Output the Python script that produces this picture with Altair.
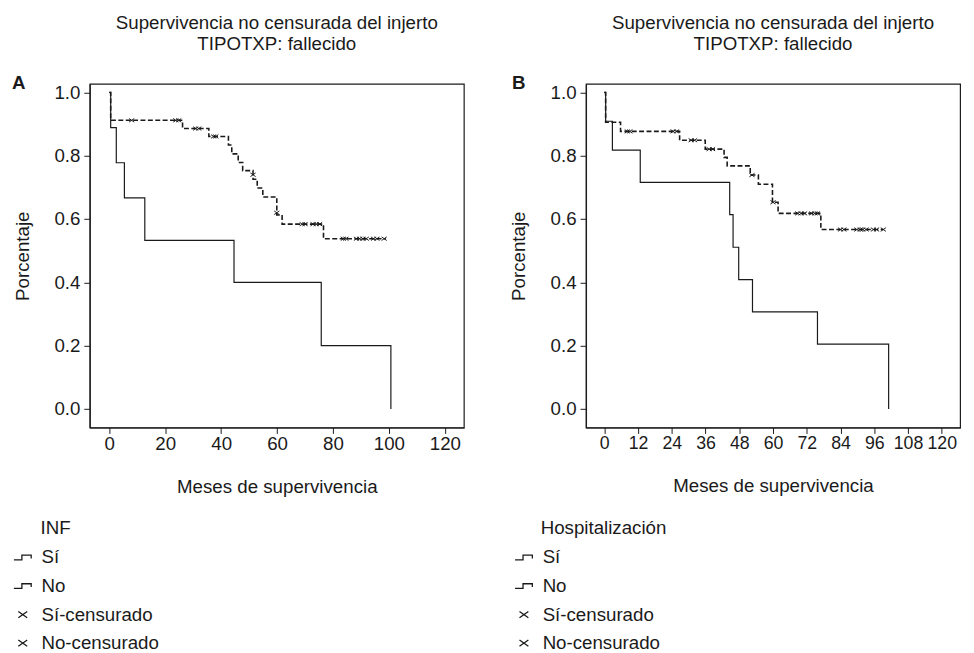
import altair as alt
import pandas as pd

# ---------------- data ----------------
# Panel A (INF)
A_SI_T = [0, 0.5, 2.5, 5.4, 12.7, 44.6, 75.8, 100.7]
A_SI_S = [1.0, 0.889, 0.778, 0.667, 0.533, 0.4, 0.2, 0.0]
A_NO_T = [0, 0.5, 26.2, 35.6, 42.6, 43.8, 46.1, 47.7, 51.4, 52.9, 54.9, 59.9, 61.8, 76.6, 98.9]
A_NO_S = [1.0, 0.912, 0.886, 0.861, 0.834, 0.806, 0.779, 0.753, 0.726, 0.698, 0.670, 0.613, 0.584, 0.538, 0.538]
A_CEN_T = [8.0, 23.8, 24.8, 30.9, 32.0, 37.3, 38.1, 51.4, 59.9, 69.0, 70.0, 72.9, 74.0, 75.2,
           83.7, 84.6, 88.4, 89.5, 90.7, 91.9, 94.5, 95.7, 98.3]
A_CEN_S = [0.912, 0.912, 0.912, 0.886, 0.886, 0.861, 0.861, 0.74, 0.62, 0.584, 0.584, 0.584, 0.584, 0.584,
           0.538, 0.538, 0.538, 0.538, 0.538, 0.538, 0.538, 0.538, 0.538]

# Panel B (Hospitalización)
B_SI_T = [0, 0.5, 2.9, 12.8, 44.6, 45.8, 47.8, 52.7, 75.8, 101.1]
B_SI_S = [1.0, 0.909, 0.818, 0.716, 0.614, 0.511, 0.409, 0.307, 0.205, 0.0]
B_NO_T = [0, 0.5, 5.8, 26.8, 35.9, 42.6, 43.7, 51.9, 54.8, 59.8, 61.8, 77.0, 99.2]
B_NO_S = [1.0, 0.906, 0.877, 0.849, 0.821, 0.795, 0.768, 0.739, 0.710, 0.653, 0.618, 0.567, 0.567]
B_CEN_T = [8.2, 9.1, 24.5, 25.7, 30.9, 32.1, 37.3, 38.5, 52.5, 60.0, 68.8, 70.0, 71.2, 73.7, 74.9, 75.8,
           84.0, 85.2, 89.8, 91.0, 91.9, 93.1, 95.7, 96.8, 99.2]
B_CEN_S = [0.877, 0.877, 0.877, 0.877, 0.849, 0.849, 0.821, 0.821, 0.739, 0.653,
           0.618, 0.618, 0.618, 0.618, 0.618, 0.618,
           0.567, 0.567, 0.567, 0.567, 0.567, 0.567, 0.567, 0.567, 0.567]

TITLE = ["Supervivencia no censurada del injerto", "TIPOTXP: fallecido"]
LEGEND_ITEMS = ["Sí", "No", "Sí-censurado", "No-censurado"]
A_TICKS = [0, 20, 40, 60, 80, 100, 120]
B_TICKS = [0, 12, 24, 36, 48, 60, 72, 84, 96, 108, 120]
Y_TICKS = [0.0, 0.2, 0.4, 0.6, 0.8, 1.0]

# ---------------- styling ----------------
FONT = "Liberation Sans"
FS = 19
INK = "#1a1a1a"
STEP_PATH = "M-1,0.26L-0.1,0.26L-0.1,-0.26L0.95,-0.26L0.95,0.1"
X_PATH = "M-0.5,-0.35L0.5,0.35M-0.5,0.35L0.5,-0.35"
W, H = 380, 349
Y_DOMAIN = [-0.0585, 1.027]


def panel(letter, leg_title, ticks, xdom, si_t, si_s, no_t, no_s, c_t, c_s, leg_title_x, leg_x, letter_x,
          xlabel_fs):
    si = pd.DataFrame({"t": si_t, "s": si_s})
    no = pd.DataFrame({"t": no_t, "s": no_s})
    cen = pd.DataFrame({"t": c_t, "s": c_s, "g": ["No-censurado"] * len(c_t)})

    xenc = alt.X("t:Q", scale=alt.Scale(domain=xdom, nice=False, zero=False),
                 axis=alt.Axis(values=ticks, title="Meses de supervivencia", format="d",
                               labelFontSize=xlabel_fs))
    yenc = alt.Y("s:Q", scale=alt.Scale(domain=Y_DOMAIN, nice=False, zero=False),
                 axis=alt.Axis(values=Y_TICKS, title="Porcentaje", format=".1f"))

    l_si = alt.Chart(si).mark_line(interpolate="step-after", color=INK, strokeWidth=1.2).encode(x=xenc, y=yenc)
    l_no = alt.Chart(no).mark_line(interpolate="step-after", color=INK, strokeWidth=1.6,
                                   strokeDash=[5, 2.5]).encode(x=xenc, y=yenc)
    pts = alt.Chart(cen).mark_point(filled=False, color=INK, strokeWidth=1.0, size=110, opacity=1).encode(
        x=xenc, y=yenc,
        shape=alt.Shape("g:N", scale=alt.Scale(domain=LEGEND_ITEMS,
                                               range=[STEP_PATH, STEP_PATH, X_PATH, X_PATH]),
                        legend=alt.Legend(orient="none", legendX=leg_x, legendY=471, title=None,
                                          labelFontSize=FS, labelFont=FONT, labelColor=INK,
                                          symbolSize=324, symbolStrokeWidth=1.3,
                                          symbolStrokeColor=INK, symbolFillColor="transparent",
                                          rowPadding=9, labelOffset=9, padding=0)),
    )
    lab = alt.Chart(pd.DataFrame({"txt": [letter]})).mark_text(
        font=FONT, fontSize=FS, fontWeight="bold", align="left", baseline="alphabetic", color=INK
    ).encode(text="txt:N", x=alt.value(letter_x), y=alt.value(5))
    ltitle = alt.Chart(pd.DataFrame({"txt": [leg_title]})).mark_text(
        font=FONT, fontSize=FS, align="left", baseline="alphabetic", color=INK
    ).encode(text="txt:N", x=alt.value(leg_title_x), y=alt.value(457))

    return alt.layer(l_si, l_no, pts, lab, ltitle).properties(
        width=W, height=H,
        title=alt.TitleParams(TITLE, fontSize=FS, font=FONT, fontWeight="normal", color=INK,
                              anchor="middle", frame="group", offset=20, lineHeight=22),
    )


pa = panel("A", "INF", A_TICKS, [-7.0, 126.8], A_SI_T, A_SI_S, A_NO_T, A_NO_S, A_CEN_T, A_CEN_S,
           -50, -78, -79, 19)
pb = panel("B", "Hospitalización", B_TICKS, [-6.5, 126.5], B_SI_T, B_SI_S, B_NO_T, B_NO_S, B_CEN_T, B_CEN_S,
           -46, -73, -75, 18)

chart = alt.hconcat(pa, pb, spacing=44).resolve_scale(shape="independent").properties(
    padding={"left": 3, "top": 0, "right": 5, "bottom": 0},
    background="white",
).configure_view(stroke=INK, strokeWidth=1.2).configure_axis(
    domainColor=INK, tickColor=INK, tickSize=6, grid=False, labelFont=FONT, labelFontSize=FS,
    labelColor=INK, titleFont=FONT, titleFontSize=FS, titleFontWeight="normal", titleColor=INK,
    labelPadding=4, domainWidth=1.2, tickWidth=1.0,
).configure_axisX(titlePadding=25, labelAngle=0, labelPadding=1).configure_axisY(titlePadding=22)

chart.save("out.html", embed_options={"renderer": "svg", "actions": False})
